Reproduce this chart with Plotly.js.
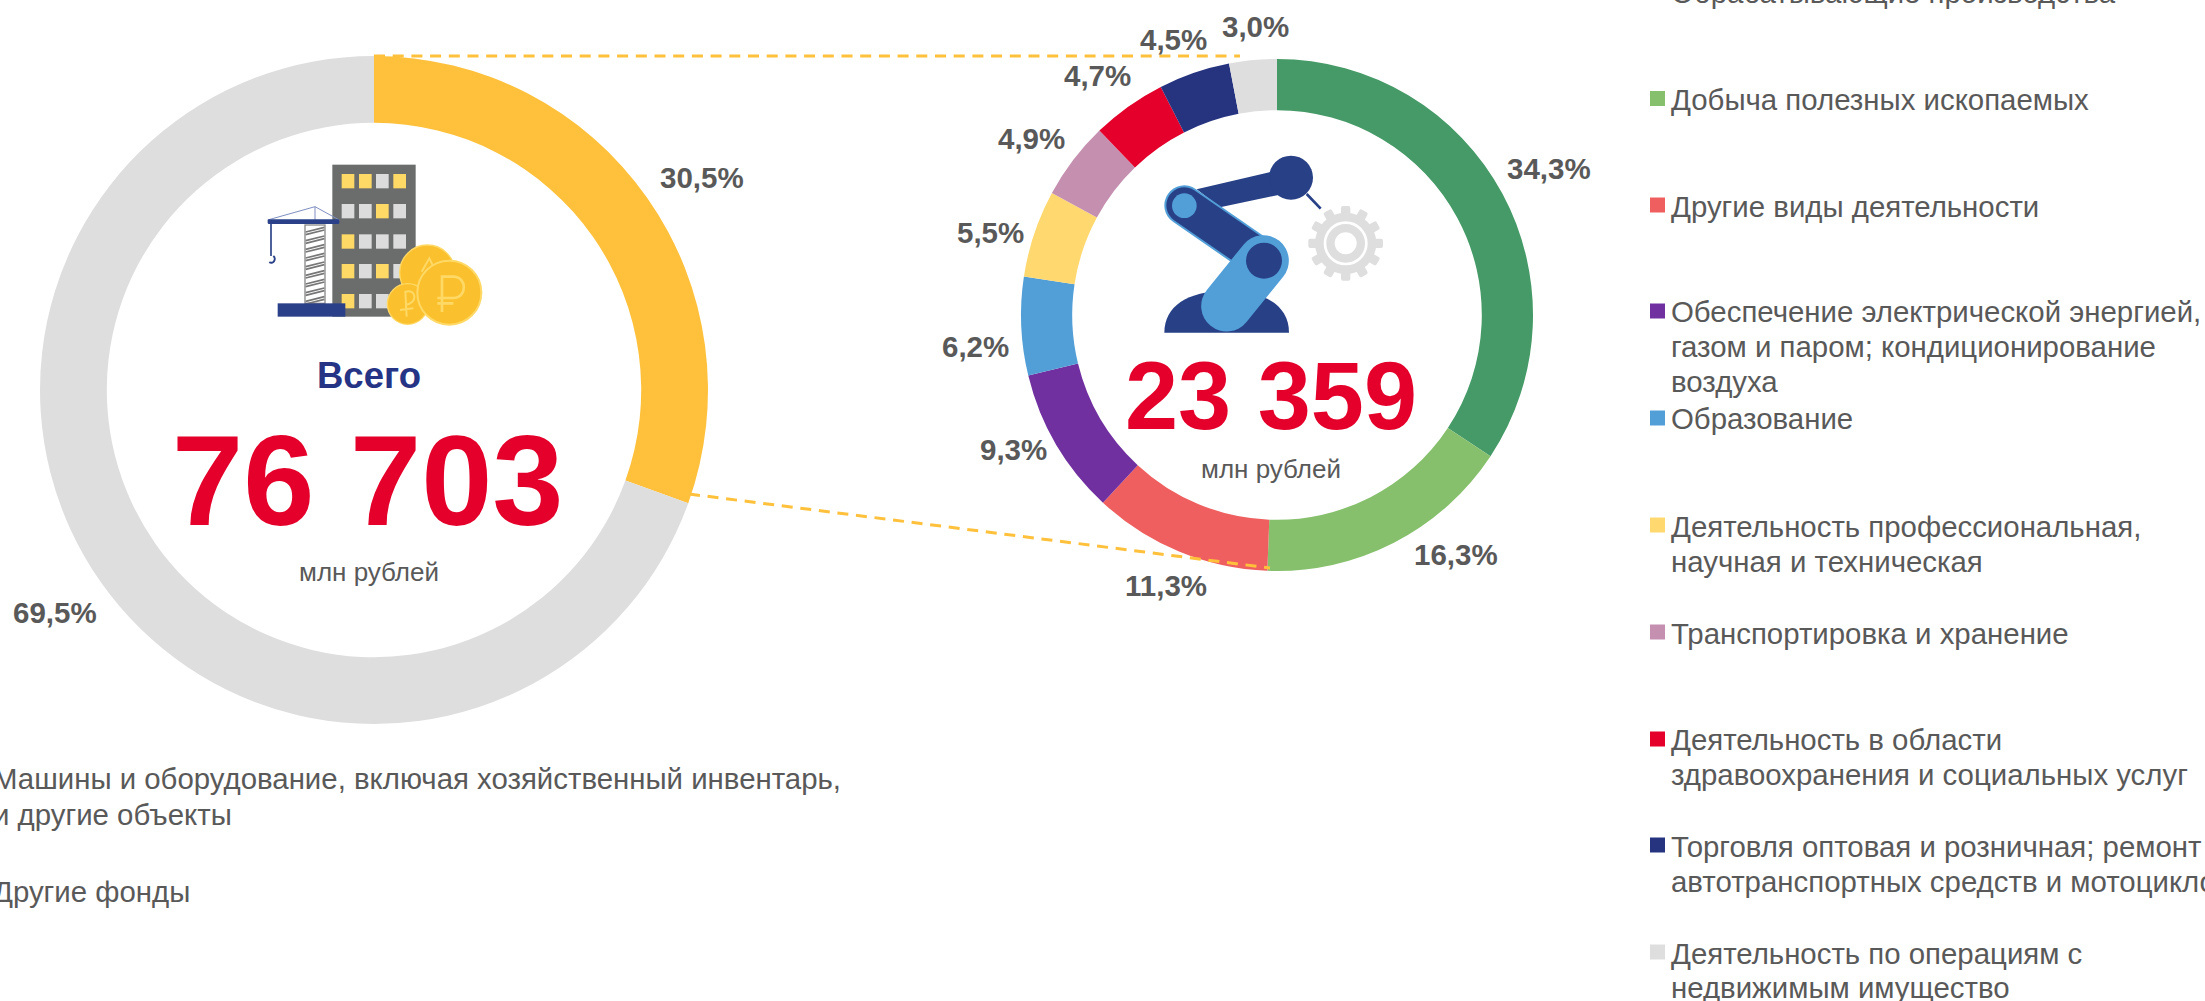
<!DOCTYPE html>
<html><head><meta charset="utf-8">
<script src="https://cdn.plot.ly/plotly-3.0.1.min.js"></script>
<style>html,body{margin:0;padding:0;background:#fff;overflow:hidden}#c{width:2205px;height:1001px}</style>
</head><body><div id="c"></div>
<script>
const W=2205,H=1001;
// --- data ---
const fundCategories=['Машины и оборудование, включая хозяйственный инвентарь, и другие объекты','Другие фонды'];
const fundValues=[30.5,69.5];
const fundColors=['#FFC13B','#DEDEDE'];
const industryCategories=['Обрабатывающие производства','Добыча полезных ископаемых','Другие виды деятельности','Обеспечение электрической энергией, газом и паром; кондиционирование воздуха','Образование','Деятельность профессиональная, научная и техническая','Транспортировка и хранение','Деятельность в области здравоохранения и социальных услуг','Торговля оптовая и розничная; ремонт автотранспортных средств и мотоциклов','Деятельность по операциям с недвижимым имущество'];
const industryValues=[34.3,16.3,11.3,9.3,6.2,5.5,4.9,4.7,4.5,3.0];
const industryColors=['#459A67','#86C06C','#EF5F5F','#7030A0','#529FD8','#FFD96F','#C58FB0','#E4002B','#263480','#DEDEDE'];
const totalAll='76 703', totalIndustry='23 359', unit='млн рублей', totalWord='Всего';
// --- layout helpers ---
const px=x=>x/W, py=y=>1-y/H;
const TXT='#595959', BFONT='Liberation Sans, Arial, sans-serif';
const fundLabelPos=[[702,177],[55,612]];
const industryLabelPos=[[1549,169],[1456,554],[1166,585],[1013,449],[975,346],[991,232],[1031,138],[1097,75],[1173,39],[1255,26]];
const legendRows=[
 [-8,[[-8,'Обрабатывающие производства']]],
 [98.5,[[99.5,'Добыча полезных ископаемых']]],
 [205,[[206,'Другие виды деятельности']]],
 [311,[[311,'Обеспечение электрической энергией,'],[346,'газом и паром; кондиционирование'],[381,'воздуха']]],
 [418,[[419,'Образование']]],
 [525,[[526,'Деятельность профессиональная,'],[561,'научная и техническая']]],
 [632,[[633,'Транспортировка и хранение']]],
 [739,[[739,'Деятельность в области'],[774,'здравоохранения и социальных услуг']]],
 [845,[[846,'Торговля оптовая и розничная; ремонт'],[881,'автотранспортных средств и мотоциклов']]],
 [952,[[953,'Деятельность по операциям с'],[987,'недвижимым имущество']]]
];
const leftLegend=[[-7,778,'Машины и оборудование, включая хозяйственный инвентарь,'],[-7,814,'и другие объекты'],[-7,891,'Другие фонды']];
const fmt=v=>v.toFixed(1).replace('.',',')+'%';
const ann=(x,y,t,size,color,bold,anchor)=>({xref:'paper',yref:'paper',x:px(x),y:py(y),text:bold?'<b>'+t+'</b>':t,showarrow:false,
  xanchor:anchor||'center',yanchor:'middle',font:{family:BFONT,size:size,color:color},borderpad:0,borderwidth:0});
const annotations=[];
fundValues.forEach((v,i)=>annotations.push(ann(fundLabelPos[i][0],fundLabelPos[i][1],fmt(v),29.5,TXT,true)));
industryValues.forEach((v,i)=>annotations.push(ann(industryLabelPos[i][0],industryLabelPos[i][1],fmt(v),29.5,TXT,true)));
annotations.push(ann(369,375,totalWord,36.5,'#263485',true));
annotations.push(ann(368,480,totalAll,128,'#E4002B',true));
annotations.push(ann(369,572,unit,26,TXT,false));
annotations.push(ann(1271,396,totalIndustry,95.5,'#E4002B',true));
annotations.push(ann(1271,469,unit,26,TXT,false));
legendRows.forEach(r=>r[1].forEach(l=>annotations.push(ann(1671,l[0],l[1],29.4,TXT,false,'left'))));
leftLegend.forEach(l=>annotations.push(ann(l[0],l[1],l[2],29.4,TXT,false,'left')));
const shapes=[];
legendRows.forEach((r,i)=>shapes.push({type:'rect',xref:'paper',yref:'paper',x0:px(1650),x1:px(1665),y0:py(r[0]-7.5),y1:py(r[0]+7.5),fillcolor:industryColors[i],line:{width:0}}));
const dash={color:'#FFC13B',width:3,dash:'11px,7.7px'};
shapes.push({type:'line',xref:'paper',yref:'paper',x0:px(374),y0:py(56),x1:px(1240),y1:py(56),line:dash});
shapes.push({type:'line',xref:'paper',yref:'paper',x0:px(689),y0:py(494),x1:px(1270),y1:py(568),line:dash});
// --- icons ---
function buildingSvg(){
 const Y='#FFD966',G='#DCDCDC',cols=[305,357,408,460],rows=[102,192,283,372,462];
 const m=['YYGY','GGYG','YGGG','YGYG','YGGG'];
 let s='<svg xmlns="http://www.w3.org/2000/svg" viewBox="0 0 840 630" width="840" height="630">';
 s+='<rect x="277" y="74" width="250" height="456" fill="#6B6D6C"/>';
 rows.forEach((r,j)=>cols.forEach((c,i)=>{s+=`<rect x="${c}" y="${r}" width="38" height="43" fill="${m[j][i]==='Y'?Y:G}"/>`;}));
 s+='<rect x="195" y="255" width="60" height="235" fill="#fff" stroke="#8a8a8a" stroke-width="4"/>';
 for(let y=262;y<485;y+=26){s+=`<path d="M197 ${y+14}L253 ${y}M197 ${y+22}L253 ${y+8}" stroke="#777" stroke-width="5" fill="none"/>`;}
 s+='<path d="M83 240L225 200L298 240M225 200V240" stroke="#7f8fc0" stroke-width="3" fill="none"/>';
 s+='<rect x="83" y="238" width="215" height="14" rx="4" fill="#2A4189"/>';
 s+='<path d="M93 250V348" stroke="#2A4189" stroke-width="5"/><path d="M100 348A10 11 0 1 1 88 366" stroke="#2A4189" stroke-width="6" fill="none"/>';
 s+='<rect x="113" y="490" width="203" height="40" fill="#2A4189"/>';
 s+='<circle cx="562" cy="398" r="83" fill="#FBC02D" stroke="#FFD966" stroke-width="4"/>';
 s+='<path d="M545 395L568 355L590 400" stroke="#FFD966" stroke-width="6" fill="none"/>';
 s+='<circle cx="503" cy="492" r="61" fill="#FBC02D" stroke="#FFD966" stroke-width="4"/>';
 s+='<path d="M500 530L496 455C530 445 535 490 495 495M480 510L520 505" stroke="#FFD966" stroke-width="6" fill="none"/>';
 s+='<circle cx="628" cy="458" r="96" fill="#FBC02D" stroke="#FFD966" stroke-width="6"/>';
 s+='<path d="M606 516V410H640C682 410 682 474 640 474H592M592 490H640" stroke="#FFD966" stroke-width="8" fill="none"/>';
 return s+'</svg>';
}
function robotSvg(){
 const D='#274086',L='#529FD8';
 let s='<svg xmlns="http://www.w3.org/2000/svg" viewBox="0 0 840 660" width="840" height="660">';
 s+='<path d="M103 608C103 530 170 483 290 483C410 483 477 530 477 608Z" fill="'+D+'"/>';
 s+='<path d="M200 178L425 125L445 195L270 232Z" fill="'+D+'"/>';
 s+='<circle cx="483" cy="143" r="66" fill="'+D+'"/>';
 s+='<path d="M530 192L572 236" stroke="'+D+'" stroke-width="8"/>';
 s+='<line x1="163" y1="226" x2="400" y2="390" stroke="'+L+'" stroke-width="120" stroke-linecap="round"/>';
 s+='<line x1="163" y1="226" x2="400" y2="390" stroke="'+D+'" stroke-width="108" stroke-linecap="round"/>';
 s+='<circle cx="163" cy="227" r="37" fill="'+L+'"/>';
 s+='<line x1="400" y1="392" x2="290" y2="528" stroke="'+L+'" stroke-width="153" stroke-linecap="round"/>';
 s+='<circle cx="402" cy="392" r="54" fill="'+D+'"/>';
 let t='';
 for(let a=0;a<360;a+=30){t+=`<rect x="633" y="228" width="28" height="40" rx="6" fill="#DEDEDE" transform="rotate(${a} 647 340)"/>`;}
 s+=t+'<circle cx="647" cy="340" r="92" fill="#DEDEDE"/>';
 s+='<circle cx="647" cy="340" r="62" fill="none" stroke="#fff" stroke-width="8"/><circle cx="647" cy="340" r="33" fill="#fff"/>';
 return s+'</svg>';
}
const uri=s=>'data:image/svg+xml;charset=utf-8,'+encodeURIComponent(s);
const images=[
 {source:uri(buildingSvg()),xref:'paper',yref:'paper',x:px(240),y:py(140),sizex:280/W,sizey:210/H,sizing:'stretch',xanchor:'left',yanchor:'top',layer:'above'},
 {source:uri(robotSvg()),xref:'paper',yref:'paper',x:px(1130),y:py(130),sizex:280/W,sizey:220/H,sizing:'stretch',xanchor:'left',yanchor:'top',layer:'above'}
];
const dom=(cx,cy,r)=>({x:[(cx-r)/W,(cx+r)/W],y:[1-(cy+r)/H,1-(cy-r)/H]});
const base={type:'pie',sort:false,direction:'clockwise',rotation:0,textinfo:'none',showlegend:false,hoverinfo:'label+percent'};
Plotly.newPlot('c',[
 Object.assign({},base,{labels:fundCategories,values:fundValues,hole:0.8,domain:dom(374,390,334),marker:{colors:fundColors,line:{width:0}}}),
 Object.assign({},base,{labels:industryCategories,values:industryValues,hole:0.8,domain:dom(1277,315,256),marker:{colors:industryColors,line:{width:0}}})
],{width:W,height:H,margin:{l:0,r:0,t:0,b:0,pad:0},paper_bgcolor:'#fff',plot_bgcolor:'#fff',annotations,shapes,images,showlegend:false,font:{family:BFONT}},{displayModeBar:false,staticPlot:true});
</script></body></html>
